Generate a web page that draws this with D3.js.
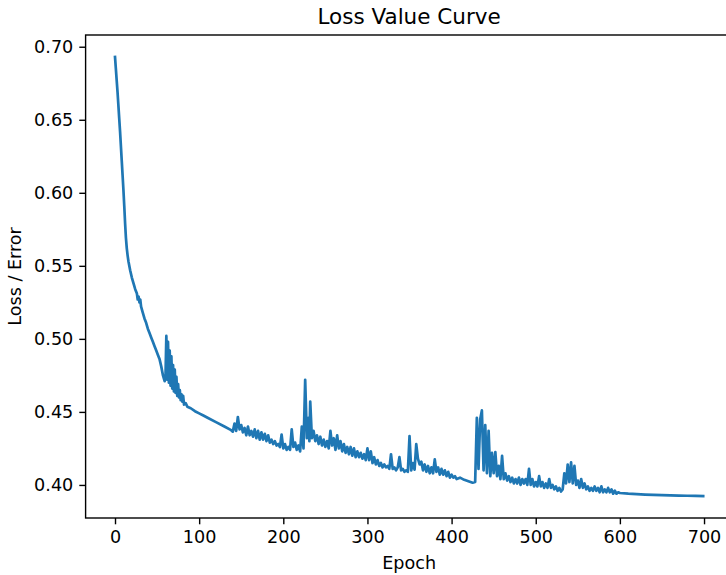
<!DOCTYPE html>
<html>
<head>
<meta charset="utf-8">
<script src="https://cdn.jsdelivr.net/npm/d3@7"></script>
<style>
  body { margin: 0; background: #fff; }
  svg { display: block; font-family: "DejaVu Sans", sans-serif; }
</style>
</head>
<body>
<svg></svg>
<script>
let width = 726, height = 575;

// [epoch, loss], split by phase of training
let earlyDrop = [
  [0, 0.693], [1, 0.685], [2, 0.677], [3, 0.669], [4, 0.660], [5, 0.651], [6, 0.642],
  [7, 0.632], [8, 0.622], [9, 0.612], [10, 0.602], [11, 0.591], [12, 0.579], [13, 0.569],
  [14, 0.562], [15, 0.557], [16, 0.553], [18, 0.547], [20, 0.542], [22, 0.538], [24, 0.534],
  [26, 0.531], [27, 0.527], [28, 0.529], [29, 0.525], [30, 0.527], [31, 0.522], [33, 0.518],
  [35, 0.514], [37, 0.511], [39, 0.507], [41, 0.504], [43, 0.501], [45, 0.498], [47, 0.495],
  [49, 0.492], [51, 0.489], [53, 0.486], [55, 0.481], [57, 0.475], [59, 0.471]
];

let firstSpikes = [
  [60, 0.474], [61, 0.502], [62, 0.472], [63, 0.498], [64, 0.470], [65, 0.492], [66, 0.468],
  [67, 0.488], [68, 0.466], [69, 0.482], [70, 0.464], [71, 0.479], [72, 0.463], [73, 0.474],
  [74, 0.461], [75, 0.469], [76, 0.460], [77, 0.465], [78, 0.458], [79, 0.462], [80, 0.457],
  [81, 0.461], [82, 0.455], [84, 0.456], [86, 0.4535], [88, 0.453], [90, 0.4525]
];

let plateau = [
  [95, 0.4505], [100, 0.449], [105, 0.4475], [110, 0.446], [120, 0.443], [130, 0.440], [138, 0.4375]
];

let midNoise = [
  [140, 0.4365], [142, 0.442], [144, 0.437], [146, 0.4465], [148, 0.438], [150, 0.441],
  [152, 0.436], [154, 0.439], [156, 0.434], [158, 0.440], [160, 0.434], [162, 0.437],
  [164, 0.433], [166, 0.438], [168, 0.432], [170, 0.437], [172, 0.431], [174, 0.436],
  [176, 0.431], [178, 0.435], [180, 0.430], [182, 0.434], [184, 0.429], [186, 0.431],
  [188, 0.428], [190, 0.430], [192, 0.427], [194, 0.428], [196, 0.426], [198, 0.4345],
  [200, 0.425], [202, 0.428], [204, 0.424], [206, 0.426], [208, 0.424], [210, 0.438],
  [212, 0.426], [214, 0.429], [216, 0.424], [218, 0.427], [220, 0.423], [222, 0.440],
  [224, 0.425], [226, 0.472], [228, 0.432], [230, 0.446], [231, 0.430], [232, 0.457],
  [234, 0.432], [236, 0.437], [238, 0.430], [240, 0.434], [242, 0.428], [244, 0.433],
  [246, 0.427], [248, 0.431], [250, 0.426], [252, 0.430], [254, 0.425], [256, 0.437],
  [258, 0.427], [260, 0.432], [262, 0.424], [264, 0.434], [266, 0.425], [268, 0.430],
  [270, 0.423], [272, 0.428], [274, 0.422], [276, 0.426], [278, 0.421], [280, 0.426],
  [282, 0.420], [284, 0.425], [286, 0.419], [288, 0.423], [290, 0.419], [292, 0.422],
  [294, 0.418], [296, 0.421], [298, 0.417], [300, 0.425], [302, 0.417], [304, 0.423],
  [306, 0.415], [308, 0.419], [310, 0.414], [312, 0.417], [314, 0.413], [316, 0.415],
  [318, 0.412], [320, 0.414], [322, 0.412], [324, 0.413], [326, 0.411], [328, 0.421],
  [330, 0.411], [332, 0.412], [334, 0.410], [336, 0.412], [338, 0.419], [340, 0.410],
  [342, 0.411], [344, 0.409], [346, 0.410], [348, 0.409], [350, 0.4335], [352, 0.410],
  [354, 0.415], [356, 0.4105], [358, 0.428], [360, 0.418], [362, 0.414], [364, 0.416],
  [366, 0.410], [368, 0.414], [370, 0.409], [372, 0.413], [374, 0.408], [376, 0.412],
  [378, 0.408], [380, 0.4175], [382, 0.409], [384, 0.412], [386, 0.407], [388, 0.411],
  [390, 0.407], [392, 0.410], [394, 0.406], [396, 0.409], [398, 0.405], [400, 0.407],
  [402, 0.405], [404, 0.406], [406, 0.404], [410, 0.405], [415, 0.4035], [420, 0.4025],
  [425, 0.4015], [428, 0.402]
];

let lateSpikes = [
  [430, 0.446], [432, 0.411], [434, 0.445], [436, 0.451], [438, 0.410], [440, 0.441],
  [442, 0.408], [444, 0.437], [446, 0.406], [448, 0.422], [450, 0.408], [452, 0.4225],
  [454, 0.406], [456, 0.413], [458, 0.404], [460, 0.420], [462, 0.404], [464, 0.408],
  [466, 0.403], [468, 0.406], [470, 0.402], [472, 0.405], [474, 0.401], [476, 0.404],
  [478, 0.401], [480, 0.405], [482, 0.400], [484, 0.404], [486, 0.401], [488, 0.404],
  [490, 0.400], [492, 0.411], [494, 0.400], [496, 0.404], [498, 0.399], [500, 0.402],
  [502, 0.399], [504, 0.406], [506, 0.399], [508, 0.402], [510, 0.398], [512, 0.401],
  [514, 0.398], [516, 0.404], [518, 0.398], [520, 0.400], [522, 0.397], [524, 0.399],
  [526, 0.396], [528, 0.398], [530, 0.3955], [532, 0.397], [534, 0.408], [536, 0.401],
  [538, 0.414], [540, 0.402], [542, 0.4155], [544, 0.401], [546, 0.413], [548, 0.400],
  [550, 0.403], [552, 0.398], [554, 0.404], [556, 0.398], [558, 0.401], [560, 0.397],
  [562, 0.399], [564, 0.396], [566, 0.398], [568, 0.396], [570, 0.399], [572, 0.396],
  [574, 0.398], [576, 0.395], [578, 0.399], [580, 0.395], [582, 0.397], [584, 0.395],
  [586, 0.398], [588, 0.395], [590, 0.397], [592, 0.394], [594, 0.396], [596, 0.394],
  [598, 0.395]
];

let tail = [
  [600, 0.3945], [610, 0.394], [620, 0.3937], [630, 0.3934], [640, 0.3932], [650, 0.393],
  [660, 0.3929], [670, 0.3927], [680, 0.3926], [690, 0.3925], [699, 0.3924]
];

let xTicks = [0, 100, 200, 300, 400, 500, 600, 700];
let yTicks = [0.40, 0.45, 0.50, 0.55, 0.60, 0.65, 0.70];

let data = [].concat(earlyDrop, firstSpikes, plateau, midNoise, lateSpikes, tail);

// axes box (right edge runs off the page like the original crop)
let margin = { left: 85.6, top: 35, right: 732.6, bottom: 518 };

let svg = d3.select("svg")
    .attr("width", width)
    .attr("height", height);

// matplotlib-like 5% padding on the data range
let xExt = d3.extent(data, d => d[0]);
let yExt = d3.extent(data, d => d[1]);
let xPad = (xExt[1] - xExt[0]) * 0.05;
let yPad = (yExt[1] - yExt[0]) * 0.05;

let x = d3.scaleLinear()
    .domain([xExt[0] - xPad, xExt[1] + xPad])
    .range([margin.left, margin.right]);

let y = d3.scaleLinear()
    .domain([yExt[0] - yPad, yExt[1] + yPad])
    .range([margin.bottom, margin.top]);

let line = d3.line()
    .x(d => x(d[0]))
    .y(d => y(d[1]));

svg.append("path")
    .datum(data)
    .attr("fill", "none")
    .attr("stroke", "#1f77b4")
    .attr("stroke-width", 2.7)
    .attr("stroke-linejoin", "round")
    .attr("stroke-linecap", "square")
    .attr("d", line);

// x axis
let xAxis = svg.append("g")
    .attr("transform", "translate(0," + margin.bottom + ")")
    .call(d3.axisBottom(x).tickValues(xTicks).tickSize(6.3).tickPadding(6).tickFormat(d3.format("d")));

// y axis
let yAxis = svg.append("g")
    .attr("transform", "translate(" + margin.left + ",0)")
    .call(d3.axisLeft(y).tickValues(yTicks).tickSize(6.3).tickPadding(6).tickFormat(d3.format(".2f")));

[xAxis, yAxis].forEach(g => {
    g.select(".domain").remove();
    g.selectAll(".tick line").attr("stroke", "#000").attr("stroke-width", 1.4);
    g.selectAll(".tick text")
        .attr("fill", "#000")
        .style("font-size", "17.6px")
        .style("font-family", "DejaVu Sans");
});

// spines
svg.append("rect")
    .attr("x", margin.left)
    .attr("y", margin.top)
    .attr("width", margin.right - margin.left)
    .attr("height", margin.bottom - margin.top)
    .attr("fill", "none")
    .attr("stroke", "#000")
    .attr("stroke-width", 1.4);

let midX = (margin.left + margin.right) / 2;

svg.append("text")
    .attr("x", midX)
    .attr("y", 24)
    .attr("text-anchor", "middle")
    .style("font-size", "21.5px")
    .text("Loss Value Curve");

svg.append("text")
    .attr("x", midX)
    .attr("y", 569)
    .attr("text-anchor", "middle")
    .style("font-size", "17.6px")
    .text("Epoch");

svg.append("text")
    .attr("transform", "translate(21," + ((margin.top + margin.bottom) / 2) + ") rotate(-90)")
    .attr("text-anchor", "middle")
    .style("font-size", "17.6px")
    .text("Loss / Error");
</script>
</body>
</html>
